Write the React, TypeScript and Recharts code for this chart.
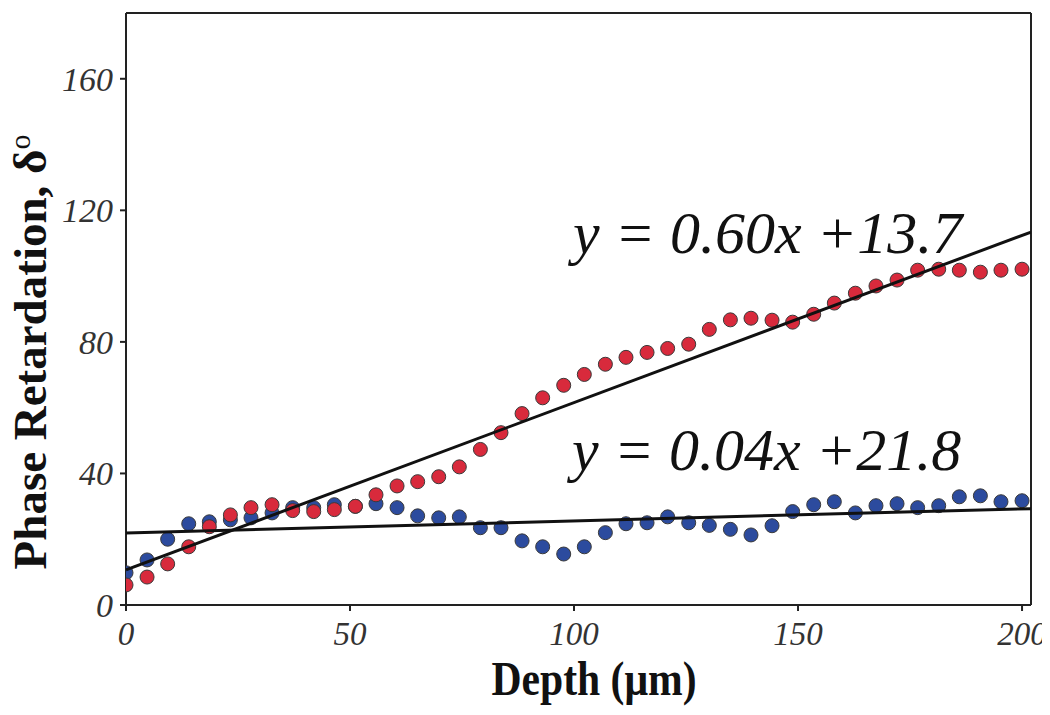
import { ComposedChart, Scatter, XAxis, YAxis, ReferenceLine } from "recharts";

// depth (µm) of each measurement
const depth = [
  0, 4.7, 9.3, 14, 18.6, 23.3, 27.9, 32.6, 37.2, 41.9, 46.5, 51.2, 55.8, 60.5, 65.1,
  69.8, 74.4, 79.1, 83.7, 88.4, 93, 97.7, 102.3, 107, 111.6, 116.3, 120.9, 125.6,
  130.2, 134.9, 139.5, 144.2, 148.8, 153.5, 158.1, 162.8, 167.4, 172.1, 176.7,
  181.4, 186, 190.7, 195.3, 200,
];

const redRetardation = [
  6.1, 8.5, 12.5, 17.7, 23.8, 27.4, 29.6, 30.5, 28.7, 28.4, 29, 30, 33.5, 36.2, 37.5,
  39, 42, 47.3, 52.4, 58.2, 63, 66.8, 70.1, 73.2, 75.3, 76.8, 78, 79.3, 83.8, 86.7,
  87.2, 86.6, 86, 88.4, 91.8, 94.8, 97, 98.8, 101.8, 102.1, 101.8, 101.2, 101.8, 102.1,
];

const blueRetardation = [
  9.8, 13.7, 20, 24.7, 25.3, 25.9, 26.5, 28, 29.6, 29.6, 30.5, 30, 30.8, 29.6, 27.1,
  26.5, 26.8, 23.5, 23.5, 19.5, 17.7, 15.5, 17.7, 22, 24.7, 25, 26.8, 25, 24.2, 23,
  21.3, 24.1, 28.4, 30.5, 31.4, 28, 30.2, 30.8, 29.6, 30.2, 32.9, 33.2, 31.4, 31.7,
];

// fitted lines as drawn
const fitDepth = [0, 202];
const redFit = [10.7, 113.4];
const blueFit = [21.9, 29.3];

const xTicks = [0, 50, 100, 150, 200];
const yTicks = [0, 40, 80, 120, 160];

const redPoints = depth.map((d, i) => ({ depth: d, value: redRetardation[i] }));
const bluePoints = depth.map((d, i) => ({ depth: d, value: blueRetardation[i] }));
const redLine = fitDepth.map((d, i) => ({ depth: d, value: redFit[i] }));
const blueLine = fitDepth.map((d, i) => ({ depth: d, value: blueFit[i] }));

const serif = "'Liberation Serif', 'Times New Roman', serif";
const axisColor = "#222";

const Dot = (color: string) => (props: any) => (
  <circle cx={props.cx} cy={props.cy} r={7} fill={color} stroke="#3a3a3a" strokeWidth={1} />
);

const NoShape = () => <g />;

const XTick = (props: any) => (
  <text x={props.x} y={props.y + 34} textAnchor="middle" fontFamily={serif}
    fontStyle="italic" fontSize={33} fill="#333">
    {props.payload.value}
  </text>
);

const YTick = (props: any) => (
  <text x={props.x - 7} y={props.y + 12} textAnchor="end" fontFamily={serif}
    fontStyle="italic" fontSize={34} fill="#333">
    {props.payload.value}
  </text>
);

export default function App() {
  return (
    <div style={{ position: "relative", width: 1050, height: 698, marginLeft: -8 }}>
      <ComposedChart width={1050} height={698} margin={{ top: 5, right: 19, bottom: 0, left: 0 }}
        style={{ overflow: "visible" }}>
        <XAxis type="number" dataKey="depth" domain={[0, 202]} ticks={xTicks} height={101}
          tickSize={6} tickMargin={0} stroke={axisColor} strokeWidth={2} tick={<XTick />}
          allowDataOverflow />
        <YAxis type="number" dataKey="value" domain={[0, 180]} ticks={yTicks} width={126}
          tickSize={6} tickMargin={0} stroke={axisColor} strokeWidth={2} tick={<YTick />}
          allowDataOverflow />
        <ReferenceLine y={180} stroke={axisColor} strokeWidth={2} />
        <ReferenceLine x={202} stroke={axisColor} strokeWidth={2} />
        <Scatter data={bluePoints} shape={Dot("#2c4b9e")} isAnimationActive={false} />
        <Scatter data={redPoints} shape={Dot("#d82a3c")} isAnimationActive={false} />
        <Scatter data={redLine} shape={NoShape} line={{ stroke: "#111", strokeWidth: 3 }}
          isAnimationActive={false} />
        <Scatter data={blueLine} shape={NoShape} line={{ stroke: "#111", strokeWidth: 3 }}
          isAnimationActive={false} />
      </ComposedChart>
      <svg width={1050} height={698} style={{ position: "absolute", left: 0, top: 0, pointerEvents: "none" }}>
        <text x={573} y={245} fontFamily={serif} fontStyle="italic" fontSize={60} fill="#111">
          y = 0.60x +13.7
        </text>
        <text x={572} y={462} fontFamily={serif} fontStyle="italic" fontSize={60} fill="#111">
          y = 0.04x +21.8
        </text>
        <text x={594} y={687} textAnchor="middle" fontFamily={serif} fontWeight="bold"
          fontSize={48} fill="#111" textLength={205} lengthAdjust="spacingAndGlyphs">
          Depth (μm)
        </text>
        <text transform="translate(46, 344) rotate(-90)" textAnchor="middle" fontFamily={serif}
          fontWeight="bold" fontSize={47} fill="#111">
          Phase Retardation, δ<tspan dy={-16} fontSize={30} fontWeight="normal">o</tspan>
        </text>
      </svg>
    </div>
  );
}
